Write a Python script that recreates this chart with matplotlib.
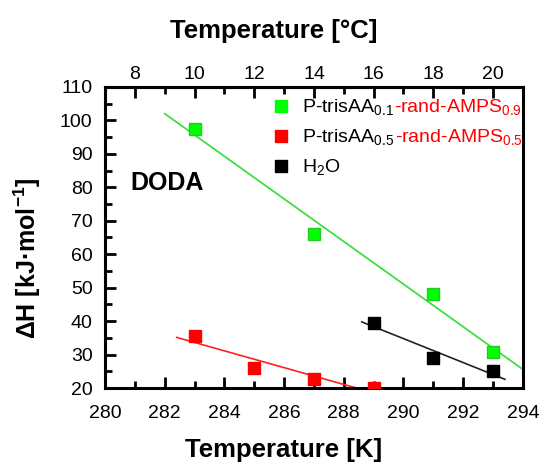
import numpy as np
import matplotlib
matplotlib.use('Agg')
import matplotlib.pyplot as plt
from matplotlib.lines import Line2D

plt.rcParams['font.family'] = ['Liberation Sans', 'DejaVu Sans']
plt.rcParams['mathtext.fontset'] = 'custom'
plt.rcParams['mathtext.rm'] = 'Liberation Sans'
plt.rcParams['mathtext.bf'] = 'Liberation Sans:bold'

# data
t_green = [283, 287, 291, 293]
dh_green = [97.4, 66.0, 48.2, 30.8]
t_red = [283, 285, 287, 289]
dh_red = [35.7, 25.9, 22.8, 20.0]
t_black = [289, 291, 293]
dh_black = [39.5, 28.9, 25.2]

# fitted line ranges
fit_green = [282.0, 294.0]
fit_red = [282.4, 289.5]
fit_black = [288.6, 293.4]

fig = plt.figure(figsize=(5.39, 4.62), dpi=100)
ax = fig.add_axes([0.195, 0.160, 0.775, 0.652])

def fit_line(x, y, rng, color):
    p = np.polyfit(x, y, 1)
    xs = np.array(rng)
    ax.plot(xs, np.polyval(p, xs), color=color, lw=1.2, zorder=2)

fit_line(t_green, dh_green, fit_green, '#33dd33')
fit_line(t_red, dh_red, fit_red, '#ff2020')
fit_line(t_black, dh_black, fit_black, '#222222')

ax.plot(t_green, dh_green, 's', color='#00ff00', mec='#22cc22', ms=8.5, ls='none', zorder=3)
ax.plot(t_red, dh_red, 's', color='#ff0000', mec='#ff0000', ms=8.5, ls='none', zorder=3)
ax.plot(t_black, dh_black, 's', color='black', ms=8.5, ls='none', zorder=3)

ax.set_xlim(280, 294)
ax.set_ylim(20, 110)
ax.set_xticks(np.arange(280, 295, 2))
ax.set_xticks(np.arange(280, 295, 1), minor=True)
ax.set_yticks(np.arange(20, 111, 10))
ax.set_yticks(np.arange(20, 111, 5), minor=True)
ax.tick_params(which='both', direction='in', width=2, top=False, right=False, labelsize=14)
ax.tick_params(which='major', length=8)
ax.tick_params(which='minor', length=5)
ax.tick_params(axis='x', pad=12)
ax.tick_params(axis='y', pad=9)
for s in ax.spines.values():
    s.set_linewidth(2.2)

ax.set_xlabel('Temperature [K]', fontsize=18.5, fontweight='bold', labelpad=12)
ax.xaxis.label.set_x(0.428)
ax.set_ylabel(r'ΔH [kJ·mol$^{\mathbf{-1}}$]', fontsize=18, fontweight='bold', labelpad=12)
ax.yaxis.label.set_y(0.432)

top = ax.secondary_xaxis('top', functions=(lambda k: k - 273, lambda c: c + 273))
top.set_xticks(np.arange(8, 21, 2))
top.set_xticks(np.arange(7, 22, 1), minor=True)
top.tick_params(which='both', direction='in', width=2, labelsize=14, pad=3)
top.tick_params(which='major', length=8)
top.tick_params(which='minor', length=5)
top.spines['top'].set_linewidth(2.2)
top.set_xlabel('Temperature [°C]', fontsize=18.5, fontweight='bold', labelpad=20)
top.xaxis.label.set_x(0.404)

ax.text(280.85, 81.3, 'DODA', fontsize=18, fontweight='bold', va='center', ha='left')

handles = [Line2D([], [], marker='s', color='#00ff00', ls='none', ms=8.5),
           Line2D([], [], marker='s', color='#ff0000', ls='none', ms=8.5),
           Line2D([], [], marker='s', color='black', ls='none', ms=8.5)]
labels = [r'P-trisAA$_{0.1}$', r'P-trisAA$_{0.5}$', r'H$_2$O']
leg = ax.legend(handles, labels, loc='upper left', bbox_to_anchor=(0.397, 0.965), frameon=False,
                fontsize=14, handlelength=1.0, handletextpad=0.62, labelspacing=0.5,
                borderpad=0, borderaxespad=0)
red_parts = [r'-rand-AMPS$_{0.9}$', r'-rand-AMPS$_{0.5}$']
for txt, red in zip(leg.get_texts()[:2], red_parts):
    ax.annotate(red, xy=(1, 0), xycoords=txt, va='bottom', ha='left', color='red',
                fontsize=14, zorder=10)

fig.savefig('out.png', dpi=100)
